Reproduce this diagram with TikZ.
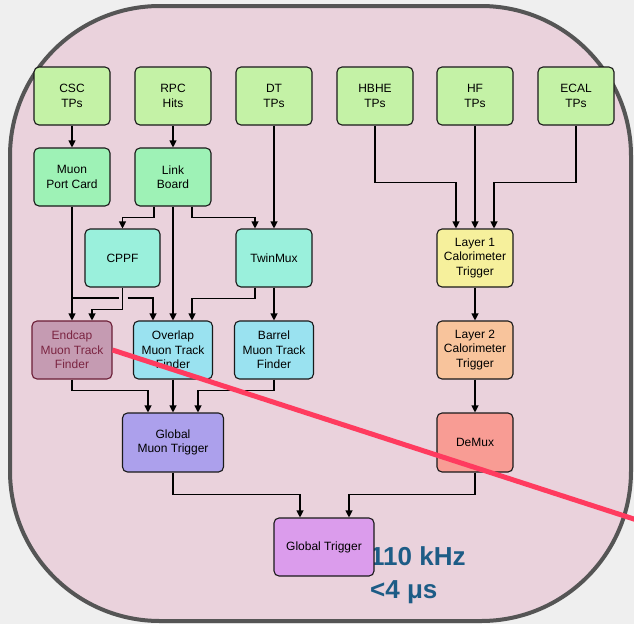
\documentclass[tikz,border=0pt]{standalone}
\usepackage{fontspec}
\setmainfont{Liberation Sans}
\usetikzlibrary{arrows.meta}
\definecolor{pagegray}{HTML}{EFEFEF}
\definecolor{rimgray}{HTML}{555555}
\definecolor{bgpink}{HTML}{EAD2DC}
\definecolor{tpgreen}{HTML}{C4F2A6}
\definecolor{mintgreen}{HTML}{9EF2B6}
\definecolor{aqua}{HTML}{9AF0DC}
\definecolor{tfblue}{HTML}{9AE2F0}
\definecolor{emtfpink}{HTML}{C59BB2}
\definecolor{emtfdark}{HTML}{6B1E36}
\definecolor{emtftext}{HTML}{7B2542}
\definecolor{gmtpurple}{HTML}{ACA0EC}
\definecolor{gtviolet}{HTML}{DB9CEC}
\definecolor{calyellow}{HTML}{F6F09C}
\definecolor{calorange}{HTML}{F8C49C}
\definecolor{salmon}{HTML}{F89C94}
\definecolor{cutred}{HTML}{FF3B5F}
\definecolor{rateblue}{HTML}{1D5C86}
\begin{document}
\begin{tikzpicture}[x=1pt,y=-1pt,
    box/.style={draw=black!90,line width=1.1pt,rounded corners=5pt,
      minimum width=76pt,minimum height=58pt,align=center,inner sep=0pt,
      font=\fontsize{12}{14.3}\selectfont},
    wire/.style={line width=1.1pt},
    arr/.style={wire,-{Triangle[length=7pt,width=7pt]}}]
      \clip (0,0) rectangle (634,624);
      \fill[pagegray] (0,0) rectangle (634,624);

      \draw[line width=4pt,draw=rimgray,fill=bgpink,rounded corners=150pt] (10,6) rectangle (631,621);

      % inputs
      \foreach \n/\x/\t in {csc/72/CSC\\TPs, rpc/173/RPC\\Hits, dt/274/DT\\TPs,
                            hbhe/375/HBHE\\TPs, hf/475/HF\\TPs, ecal/576/ECAL\\TPs}
        \node[box,fill=tpgreen] (\n) at (\x,96) {\t};

      \node[box,fill=mintgreen] (mpc) at (72,177) {Muon\\Port Card};
      \node[box,fill=mintgreen] (lb) at (173,177) {Link\\Board};

      \node[box,fill=aqua,minimum width=75pt] (cppf) at (122.5,258) {CPPF};
      \node[box,fill=aqua] (tm) at (274,258) {TwinMux};
      \node[box,fill=calyellow] (l1) at (475,258) {Layer 1\\Calorimeter\\Trigger};

      \node[box,fill=emtfpink,draw=emtfdark,text=emtftext,minimum width=80pt] (emtf) at (72,350) {Endcap\\Muon Track\\Finder};
      \node[box,fill=tfblue,minimum width=79pt] (omtf) at (173,350) {Overlap\\Muon Track\\Finder};
      \node[box,fill=tfblue,minimum width=79pt] (bmtf) at (274,350) {Barrel\\Muon Track\\Finder};
      \node[box,fill=calorange] (l2) at (475,350) {Layer 2\\Calorimeter\\Trigger};

      \node[box,fill=gmtpurple,minimum width=101pt,minimum height=59pt] (gmt) at (173,442.5) {Global\\Muon Trigger};
      \node[box,fill=salmon,minimum height=59pt] (demux) at (475,442.5) {DeMux};

      \node[anchor=north west,inner sep=0pt,align=left,text=rateblue,
            font=\fontsize{26}{33}\selectfont\bfseries] (rate) at (370,546) {110 kHz\\<4 μs};
      \node[box,fill=gtviolet,minimum width=100pt] (gt) at (324,547) {Global Trigger};

      % muon side
      \draw[arr] (csc.south) -- (mpc.north);
      \draw[arr] (rpc.south) -- (lb.north);
      \draw[arr] (dt.south) -- (tm.north);
      \draw[arr] ([xshift=-19pt]lb.south) -- ++(0,11) -| (cppf.north);
      \draw[arr] ([xshift=19pt]lb.south) -- ++(0,11) -| ([xshift=-19pt]tm.north);
      \draw[arr] (lb.south) -- (omtf.north);
      \draw[arr] (mpc.south) -- (emtf.north);
      \draw[arr] (cppf.south) -- ++(0,22) -| ([xshift=20pt]emtf.north);
      \coordinate (jm) at (72,298);
      \draw[wire] (jm) -- ([xshift=-4pt]jm -| cppf.south);
      \draw[arr] ([xshift=5pt]jm -| cppf.south) -| ([xshift=-20pt]omtf.north);
      \draw[arr] ([xshift=-19pt]tm.south) -- ++(0,11) -| ([xshift=19pt]omtf.north);
      \draw[arr] (tm.south) -- (bmtf.north);

      \draw[arr] (emtf.south) -- ++(0,11) -| ([xshift=-25pt]gmt.north);
      \draw[arr] (omtf.south) -- (gmt.north);
      \draw[arr] (bmtf.south) -- ++(0,11) -| ([xshift=25pt]gmt.north);

      % calo side
      \draw[arr] (hbhe.south) -- ++(0,57) -| ([xshift=-19pt]l1.north);
      \draw[arr] (hf.south) -- (l1.north);
      \draw[arr] (ecal.south) -- ++(0,57) -| ([xshift=19pt]l1.north);
      \draw[arr] (l1.south) -- (l2.north);
      \draw[arr] (l2.south) -- (demux.north);

      \draw[arr] (gmt.south) -- ++(0,22) -| ([xshift=-24pt]gt.north);
      \draw[arr] (demux.south) -- ++(0,22) -| ([xshift=25pt]gt.north);

      \coordinate (cutend) at (640,521);
      \draw[cutred,line width=5pt] (emtf.east) -- (cutend);
    \end{tikzpicture}
\end{document}
